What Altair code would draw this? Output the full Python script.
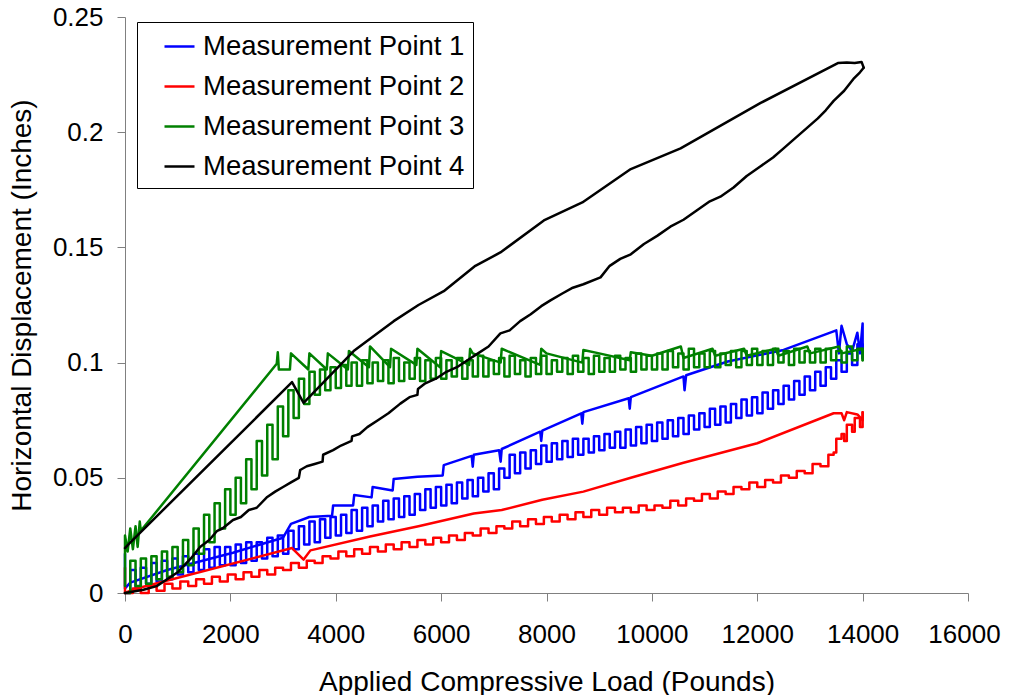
import altair as alt
import pandas as pd

series_names = ["Measurement Point 1", "Measurement Point 2", "Measurement Point 3", "Measurement Point 4"]
series_colors = ["#0000FF", "#FF0000", "#008000", "#000000"]

x_ticks = [0, 2000, 4000, 6000, 8000, 10000, 12000, 14000, 16000]
y_ticks = [0, 0.05, 0.1, 0.15, 0.2, 0.25]

# ---- Measurement Point 1 (blue) : loading branch ----
mp1_load_x = [0, 100, 200, 300, 400, 500, 600, 700, 800, 900, 1000, 1100, 1200, 1300, 1400, 1500, 1600, 1700, 1800,
              1900, 2000, 2100, 2200, 2300, 2400, 2500, 2600, 2700, 2800, 2900, 3000, 3100, 3200, 3300, 3400, 3500,
              3600, 3700, 3800, 3900, 4000, 4100, 4200, 4300, 4400, 4500, 4600, 4700, 4800, 4900, 5000, 5100, 5200,
              5300, 5400, 5500, 5600, 5700, 5800, 5900, 6000, 6100, 6200, 6300, 6400, 6500, 6600, 6700, 6800, 6900,
              7000, 7100, 7200, 7300, 7400, 7500, 7600, 7700, 7800, 7900, 8000, 8100, 8200, 8300, 8400, 8500, 8600,
              8700, 8800, 8900, 9000, 9100, 9200, 9300, 9400, 9500, 9600, 9700, 9800, 9900, 10000, 10100, 10200,
              10300, 10400, 10500, 10600, 10700, 10800, 10900, 11000, 11100, 11200, 11300, 11400, 11500, 11600,
              11700, 11800, 11900, 12000, 12100, 12200, 12300, 12400, 12500, 12600, 12700, 12800, 12900, 13000,
              13100, 13200, 13300, 13400, 13500, 13600, 13700, 13800, 13900, 14000]
mp1_load_y = [0.000, 0.010, 0.002, 0.011, 0.004, 0.013, 0.005, 0.014, 0.006, 0.015, 0.008, 0.016, 0.009, 0.017,
              0.010, 0.019, 0.011, 0.020, 0.012, 0.020, 0.012, 0.021, 0.013, 0.022, 0.014, 0.022, 0.015, 0.024,
              0.016, 0.025, 0.017, 0.027, 0.019, 0.029, 0.021, 0.031, 0.022, 0.032, 0.024, 0.033, 0.025, 0.034,
              0.026, 0.036, 0.027, 0.037, 0.029, 0.038, 0.031, 0.040, 0.032, 0.041, 0.033, 0.042, 0.034, 0.043,
              0.036, 0.045, 0.037, 0.046, 0.038, 0.047, 0.039, 0.048, 0.041, 0.049, 0.042, 0.050, 0.044, 0.052,
              0.045, 0.054, 0.050, 0.060, 0.052, 0.061, 0.054, 0.062, 0.056, 0.064, 0.057, 0.065, 0.058, 0.066,
              0.059, 0.067, 0.060, 0.067, 0.061, 0.068, 0.062, 0.069, 0.063, 0.070, 0.063, 0.071, 0.064, 0.072,
              0.065, 0.073, 0.066, 0.074, 0.067, 0.075, 0.068, 0.076, 0.069, 0.077, 0.071, 0.078, 0.072, 0.080,
              0.073, 0.081, 0.074, 0.082, 0.076, 0.084, 0.077, 0.085, 0.078, 0.087, 0.080, 0.088, 0.082, 0.090,
              0.084, 0.092, 0.086, 0.094, 0.088, 0.096, 0.090, 0.098, 0.093, 0.101, 0.096, 0.104, 0.099, 0.108,
              0.102]
# ---- Measurement Point 1 (blue) : unloading branch ----
mp1_unload_x = [14000, 14000, 13950, 13900, 13800, 13700, 13600, 13550, 13500, 12500, 11440, 10650, 10620, 10600, 9600,
                9580, 9560, 8700, 8680, 8660, 7920, 7900, 7880, 7150, 7130, 7100, 6620, 6600, 6580, 6050, 6030, 5550,
                5100, 5080, 4700, 4680, 4350, 4330, 3950, 3930, 3500, 3150, 3000, 2050, 800, 100, 0, 0]
mp1_unload_y = [0.102, 0.117, 0.104, 0.113, 0.105, 0.108, 0.116, 0.104, 0.114, 0.1055, 0.1005, 0.0945, 0.088, 0.094,
                0.085, 0.080, 0.0845, 0.0785, 0.0735, 0.078, 0.0705, 0.066, 0.070, 0.0625, 0.057, 0.062, 0.060,
                0.0548, 0.0595, 0.0555, 0.051, 0.0505, 0.0495, 0.0445, 0.046, 0.0415, 0.0425, 0.038, 0.038, 0.0335,
                0.033, 0.030, 0.024, 0.0175, 0.010, 0.0045, 0.002, 0.017]

# ---- Measurement Point 2 (red) : loading branch ----
mp2_load_x = [0, 150, 300, 450, 600, 750, 900, 1050, 1200, 1350, 1500, 1650, 1800, 1950, 2100, 2250, 2400, 2550, 2700,
              2850, 3000, 3150, 3300, 3450, 3600, 3750, 3900, 4050, 4200, 4350, 4500, 4650, 4800, 4950, 5100, 5250,
              5400, 5550, 5700, 5850, 6000, 6150, 6300, 6450, 6600, 6750, 6900, 7050, 7200, 7350, 7500, 7650, 7800,
              7950, 8100, 8250, 8400, 8550, 8700, 8850, 9000, 9150, 9300, 9450, 9600, 9750, 9900, 10050, 10200,
              10350, 10500, 10650, 10800, 10950, 11100, 11250, 11400, 11550, 11700, 11850, 12000, 12150, 12300,
              12450, 12600, 12750, 12900, 13050, 13200, 13350, 13450, 13500, 13600, 13650, 13700, 13800, 13850,
              13950, 14000]
mp2_load_y = [0.000, 0.002, 0.000, 0.003, 0.001, 0.004, 0.002, 0.005, 0.003, 0.006, 0.004, 0.007, 0.005, 0.008,
              0.006, 0.009, 0.007, 0.010, 0.008, 0.011, 0.010, 0.013, 0.011, 0.014, 0.013, 0.016, 0.015, 0.018,
              0.016, 0.019, 0.017, 0.020, 0.018, 0.021, 0.019, 0.022, 0.020, 0.023, 0.021, 0.024, 0.022, 0.025,
              0.023, 0.026, 0.025, 0.028, 0.026, 0.029, 0.028, 0.031, 0.029, 0.032, 0.030, 0.033, 0.031, 0.034,
              0.032, 0.035, 0.033, 0.036, 0.034, 0.037, 0.035, 0.037, 0.035, 0.038, 0.036, 0.038, 0.037, 0.040,
              0.038, 0.041, 0.040, 0.043, 0.041, 0.044, 0.043, 0.046, 0.045, 0.048, 0.046, 0.049, 0.048, 0.051,
              0.050, 0.053, 0.052, 0.056, 0.055, 0.060, 0.061, 0.067, 0.069, 0.066, 0.073, 0.070, 0.076, 0.072,
              0.0785]
# ---- Measurement Point 2 (red) : unloading branch ----
mp2_unload_x = [14000, 14000, 13900, 13700, 13650, 13600, 13450, 12000, 10600, 9600, 8700, 7920, 7150, 6620, 5570, 4650,
                3520, 3390, 3170, 150, 0, 0, 0]
mp2_unload_y = [0.0785, 0.075, 0.0775, 0.0785, 0.075, 0.078, 0.078, 0.065, 0.0565, 0.050, 0.044, 0.0405, 0.036,
                0.0345, 0.029, 0.0245, 0.0185, 0.0145, 0.0195, 0.0015, 0.000, 0.011, 0.002]

# ---- Measurement Point 3 (green) : loading branch ----
mp3_load_x = mp1_load_x
mp3_load_y = [0.000, 0.014, 0.003, 0.015, 0.004, 0.016, 0.006, 0.018, 0.007, 0.020, 0.009, 0.023, 0.012, 0.028,
              0.017, 0.034, 0.022, 0.039, 0.028, 0.045, 0.034, 0.050, 0.039, 0.058, 0.045, 0.066, 0.051, 0.073,
              0.058, 0.081, 0.068, 0.088, 0.076, 0.093, 0.082, 0.096, 0.086, 0.097, 0.088, 0.098, 0.089, 0.099,
              0.090, 0.100, 0.090, 0.101, 0.091, 0.100, 0.092, 0.101, 0.091, 0.102, 0.092, 0.100, 0.093, 0.102,
              0.092, 0.101, 0.093, 0.102, 0.093, 0.101, 0.094, 0.102, 0.093, 0.101, 0.094, 0.103, 0.094, 0.101,
              0.095, 0.102, 0.094, 0.103, 0.095, 0.101, 0.094, 0.102, 0.095, 0.103, 0.095, 0.101, 0.096, 0.102,
              0.095, 0.103, 0.096, 0.102, 0.095, 0.103, 0.096, 0.102, 0.096, 0.103, 0.097, 0.102, 0.096, 0.104,
              0.097, 0.103, 0.097, 0.104, 0.097, 0.105, 0.098, 0.104, 0.097, 0.106, 0.098, 0.104, 0.098, 0.105,
              0.098, 0.104, 0.099, 0.105, 0.098, 0.105, 0.099, 0.106, 0.099, 0.105, 0.099, 0.106, 0.100, 0.105,
              0.099, 0.106, 0.100, 0.105, 0.100, 0.106, 0.100, 0.106, 0.101, 0.105, 0.100, 0.107, 0.101, 0.106,
              0.101]
# ---- Measurement Point 3 (green) : unloading branch ----
mp3_unload_x = [14000, 14000, 13600, 13550, 13000, 12950, 12400, 12350, 11800, 11750, 11200, 11150, 10600, 10550, 10000,
                9600, 9580, 9000, 8700, 8680, 8000, 7900, 7880, 7150, 7130, 6600, 6550, 6530, 6000, 5980, 5550, 5530,
                5050, 5030, 4650, 4630, 4250, 4230, 3850, 3830, 3500, 3480, 3150, 3130, 2920, 2900, 2880, 300, 280,
                240, 200, 150, 100, 50, 0, 0]
mp3_unload_y = [0.101, 0.106, 0.104, 0.107, 0.104, 0.107, 0.103, 0.106, 0.103, 0.106, 0.103, 0.106, 0.102, 0.107,
                0.103, 0.1045, 0.101, 0.104, 0.1055, 0.100, 0.104, 0.106, 0.099, 0.106, 0.100, 0.104, 0.106, 0.099,
                0.105, 0.098, 0.106, 0.099, 0.106, 0.098, 0.107, 0.098, 0.105, 0.097, 0.104, 0.097, 0.104, 0.097,
                0.104, 0.097, 0.097, 0.1045, 0.0995, 0.027, 0.031, 0.020, 0.029, 0.019, 0.028, 0.018, 0.025, 0.003]

# ---- Measurement Point 4 (black) : loading branch ----
mp4_load_x = [0, 350, 600, 800, 1000, 1100, 1250, 1425, 1600, 1750, 1850, 2050, 2200, 2350, 2500, 2700, 2850, 3000,
              3150, 3300, 3325, 3450, 3600, 3750, 3760, 3950, 4100, 4300, 4310, 4450, 4600, 4800, 5000, 5225, 5400,
              5550, 5560, 5700, 5900, 6100, 6300, 6500, 6700, 6900, 7125, 7300, 7500, 7700, 7900, 8075, 8300, 8500,
              8700, 9025, 9200, 9400, 9600, 9850, 10100, 10350, 10600, 10850, 11100, 11300, 11550, 11800, 12050,
              12300, 12500, 12700, 12950, 13150, 13300, 13450, 13650, 13840, 13950, 14020]
mp4_load_y = [0.000, 0.0014, 0.003, 0.006, 0.009, 0.0115, 0.015, 0.020, 0.023, 0.027, 0.028, 0.0317, 0.033, 0.036,
              0.037, 0.0417, 0.044, 0.046, 0.048, 0.050, 0.0534, 0.055, 0.056, 0.057, 0.060, 0.062, 0.064, 0.066,
              0.068, 0.069, 0.072, 0.075, 0.078, 0.0822, 0.085, 0.086, 0.0885, 0.091, 0.093, 0.096, 0.098, 0.101,
              0.104, 0.107, 0.1127, 0.114, 0.118, 0.121, 0.1245, 0.127, 0.130, 0.1325, 0.134, 0.137, 0.142, 0.145,
              0.147, 0.1515, 0.155, 0.159, 0.162, 0.166, 0.170, 0.172, 0.176, 0.181, 0.185, 0.189, 0.193, 0.197,
              0.202, 0.206, 0.2095, 0.2136, 0.218, 0.2235, 0.226, 0.228]
# ---- Measurement Point 4 (black) : unloading branch ----
mp4_unload_x = [14020, 13980, 13850, 13700, 13530, 12065, 10545, 9600, 8680, 7950, 7125, 6650, 6050, 5570, 5100, 4690,
                4340, 3390, 3170, 60, 0]
mp4_unload_y = [0.228, 0.2305, 0.230, 0.2302, 0.230, 0.2127, 0.193, 0.184, 0.1695, 0.1617, 0.1478, 0.142, 0.131,
                0.125, 0.118, 0.111, 0.105, 0.0825, 0.0915, 0.021, 0.0195]

branches = [
    (mp1_load_x, mp1_load_y, mp1_unload_x, mp1_unload_y),
    (mp2_load_x, mp2_load_y, mp2_unload_x, mp2_unload_y),
    (mp3_load_x, mp3_load_y, mp3_unload_x, mp3_unload_y),
    (mp4_load_x, mp4_load_y, mp4_unload_x, mp4_unload_y),
]
# loading-branch line style per series (jittery records drawn as steps)
load_interp = ["step-after", "step-after", "step-after", "linear"]

rows = []
for name, (lx, ly, ux, uy) in zip(series_names, branches):
    for i, (xv, yv) in enumerate(zip(lx, ly)):
        rows.append({"series": name, "branch": "load", "load": xv, "disp": yv, "idx": i})
    for i, (xv, yv) in enumerate(zip(ux, uy)):
        rows.append({"series": name, "branch": "unload", "load": xv, "disp": yv, "idx": i})
df = pd.DataFrame(rows)

FONT = "Liberation Sans"

color = alt.Color(
    "series:N",
    scale=alt.Scale(domain=series_names, range=series_colors),
    legend=alt.Legend(
        title=None,
        orient="none",
        legendX=12,
        legendY=5,
        direction="vertical",
        symbolType="stroke",
        symbolSize=900,
        symbolStrokeWidth=2.5,
        labelFont=FONT,
        labelFontSize=27.5,
        labelColor="#000000",
        labelLimit=500,
        labelOffset=7,
        symbolOffset=18,
        rowPadding=10,
        padding=8,
        strokeColor="#000000",
        fillColor="#FFFFFF",
    ),
)

x_enc = alt.X(
    "load:Q",
    scale=alt.Scale(domain=[0, 16000], nice=False),
    axis=alt.Axis(
        values=x_ticks,
        format="d",
        labelFlush=False,
        labelOverlap=False,
        labelOffset={"condition": {"test": "datum.value == 16000", "value": -4}, "value": 0},
        title="Applied Compressive Load (Pounds)",
        titleX=421.5,
        titleY=97,
        titleBaseline="alphabetic",
        titleAlign="center",
        tickSize=8,
        labelPadding=20,
    ),
)
y_enc = alt.Y(
    "disp:Q",
    scale=alt.Scale(domain=[0, 0.25], nice=False),
    axis=alt.Axis(
        values=y_ticks,
        format=".2~f",
        labelFlush=False,
        labelOverlap=False,
        title="Horizontal Displacement (Inches)",
        titleX=-95,
        titleY=288,
        titleAngle=270,
        titleBaseline="alphabetic",
        titleAlign="center",
        tickSize=8,
        labelPadding=14,
    ),
)

base = alt.Chart(df)
layers = []
for name, interp_load in zip(series_names, load_interp):
    for branch, interp in (("load", interp_load), ("unload", "linear")):
        layers.append(
            base.transform_filter((alt.datum.series == name) & (alt.datum.branch == branch))
            .mark_line(strokeWidth=2.5, strokeJoin="round", strokeCap="round", interpolate=interp)
            .encode(x=x_enc, y=y_enc, color=color, order=alt.Order("idx:Q"))
        )

chart = (
    alt.layer(*layers)
    .properties(
        width=843,
        height=576,
        autosize=alt.AutoSizeParams(type="none"),
        padding={"left": 117, "top": 9, "right": 34, "bottom": 102},
        background="#FFFFFF",
    )
    .configure_view(stroke=None)
    .configure_axis(
        grid=False,
        domainColor="#808080",
        tickColor="#808080",
        domainWidth=1,
        tickWidth=1,
        labelFont=FONT,
        labelFontSize=26,
        labelColor="#000000",
        titleFont=FONT,
        titleFontSize=28,
        titleFontWeight="normal",
        titleColor="#000000",
    )
)

chart.save("out.html", embed_options={"renderer": "svg", "actions": False})
